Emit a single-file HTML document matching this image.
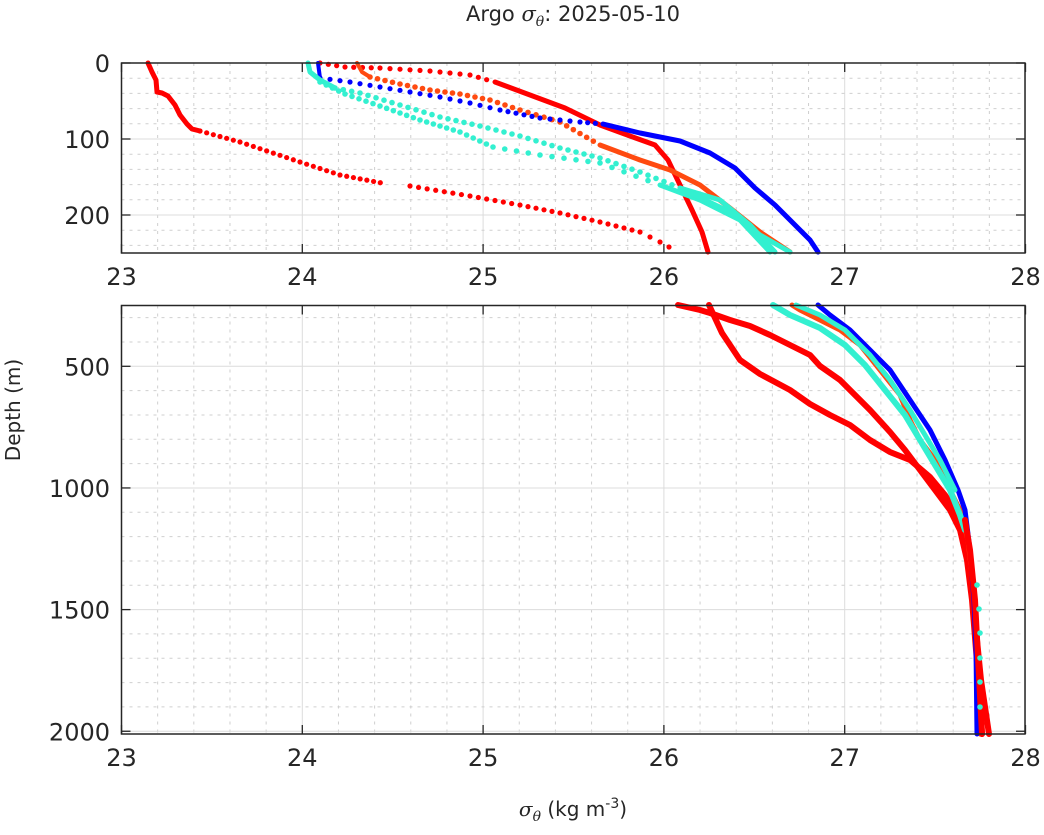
<!DOCTYPE html>
<html><head><meta charset="utf-8"><style>
html,body{margin:0;padding:0;background:#fff;}
svg{display:block;font-family:"DejaVu Sans","Liberation Sans",sans-serif;}
</style></head><body>
<svg id="s" width="1044" height="835" viewBox="0 0 1044 835" xmlns="http://www.w3.org/2000/svg">
<rect width="1044" height="835" fill="#fff"/>
<g id="grid"></g>
<g id="data" fill="none" stroke-linecap="round" stroke-linejoin="round"></g>
<g id="axes"></g>
<text x="573" y="21" font-size="21" text-anchor="middle" fill="#262626">Argo <tspan font-family="DejaVu Serif" font-style="italic">σ</tspan><tspan font-family="DejaVu Serif" font-style="italic" font-size="14" dy="5">θ</tspan><tspan dy="-5">: 2025-05-10</tspan></text>
<text transform="translate(20,410) rotate(-90)" font-size="20" text-anchor="middle" fill="#262626">Depth (m)</text>
<text x="573" y="816" font-size="20" text-anchor="middle" fill="#262626"><tspan font-family="DejaVu Serif" font-style="italic">σ</tspan><tspan font-family="DejaVu Serif" font-style="italic" font-size="14" dy="5">θ</tspan><tspan dy="-5"> (kg m</tspan><tspan font-size="14" dy="-8">-3</tspan><tspan dy="8">)</tspan></text>
</svg>
<script>
var NS="http://www.w3.org/2000/svg";
function el(p,t,a,txt){var e=document.createElementNS(NS,t);for(var k in a)e.setAttribute(k,a[k]);if(txt!==undefined)e.textContent=txt;p.appendChild(e);return e;}
var G=document.getElementById('grid'),D=document.getElementById('data'),A=document.getElementById('axes');
var X0=121.5,XS=180.8,XR=1025;
function px(s){return X0+(s-23)*XS;}
var panels=[{t:63,b:253,y:function(d){return 63+d*0.76;},maj:[0,100,200],min:[20,40,60,80,120,140,160,180,220,240],xl:285},
{t:305.5,b:734,y:function(d){return 366.3+(d-500)*0.2433;},maj:[500,1000,1500,2000],min:[],xl:766}];
for(var d=300;d<=2000;d+=100){if(d%500)panels[1].min.push(d);}
panels.forEach(function(p){
 for(var s=23;s<=28.001;s+=0.2){var x=px(s);var m=Math.abs(s-Math.round(s))<0.01;
  if(m){el(G,'line',{x1:x,x2:x,y1:p.t,y2:p.b,stroke:'#dcdcdc','stroke-width':1});}
  else el(G,'line',{x1:x,x2:x,y1:p.t,y2:p.b,stroke:'#cfcfcf','stroke-width':1,'stroke-dasharray':'3,5'});}
 p.min.forEach(function(d){var y=p.y(d);el(G,'line',{x1:X0,x2:XR,y1:y,y2:y,stroke:'#cfcfcf','stroke-width':1,'stroke-dasharray':'3,5'});});
 p.maj.forEach(function(d){var y=p.y(d);el(G,'line',{x1:X0,x2:XR,y1:y,y2:y,stroke:'#dcdcdc','stroke-width':1});
  el(A,'line',{x1:X0,x2:X0+9,y1:y,y2:y,stroke:'#262626','stroke-width':1.3});
  el(A,'line',{x1:XR,x2:XR-9,y1:y,y2:y,stroke:'#262626','stroke-width':1.3});
  el(A,'text',{x:110,y:y+9,'font-size':24,'text-anchor':'end',fill:'#262626'},String(d));});
 for(var s=23;s<=28;s++){var x=px(s);
  el(A,'line',{x1:x,x2:x,y1:p.b,y2:p.b-9,stroke:'#262626','stroke-width':1.3});
  el(A,'line',{x1:x,x2:x,y1:p.t,y2:p.t+9,stroke:'#262626','stroke-width':1.3});
  el(A,'text',{x:x,y:p.xl,'font-size':24,'text-anchor':'middle',fill:'#262626'},String(s));}
 el(A,'rect',{x:X0,y:p.t,width:XR-X0,height:p.b-p.t,fill:'none',stroke:'#262626','stroke-width':1.5});
});
function line(pts,c,w){el(D,'polyline',{points:pts.map(function(q){return q.join(',')}).join(' '),stroke:c,'stroke-width':w});}
function dots(pts,c,r,n){for(var i=0;i<pts.length-1;i++){var a=pts[i],b=pts[i+1];var L=Math.hypot(b[0]-a[0],b[1]-a[1]);var k=Math.max(1,Math.round(L/n));for(var j=0;j<k;j++){var t=j/k;el(D,'circle',{cx:a[0]+(b[0]-a[0])*t,cy:a[1]+(b[1]-a[1])*t,r:r,fill:c,stroke:'none'});}}}
var RED='#ff0000',OR='#ff4a10',BL='#0000ff',CY='#33f0d0';
// top panel
line([[148,63],[152,72],[156,80],[157,92],[162,93],[168,96],[175,105],[180,115],[187,124],[192,129],[200,131]],RED,5);
dots([[200,131],[240,142],[300,162],[340,175],[387,184]],RED,2.6,7);
dots([[410,186],[470,196],[520,205],[560,213],[600,222],[640,232],[660,242],[678,252]],RED,2.6,9);
dots([[320,63],[345,67],[380,68],[430,71],[470,75],[495,82]],RED,2.6,10);
line([[495,82],[530,95],[565,108],[600,125],[630,136],[655,145],[668,160],[680,185],[692,210],[702,232],[708,252]],RED,5);
line([[357,63],[362,72],[370,77]],OR,4);
dots([[370,77],[400,84],[430,90],[460,94],[490,100],[520,110],[560,122],[600,145]],OR,2.8,8);
line([[600,145],[640,160],[670,170],[700,185],[730,208],[760,232],[790,252]],OR,5);
line([[318,63],[320,78]],BL,4);
dots([[320,78],[350,82],[380,87],[410,92],[440,97],[470,103],[500,110],[540,118],[580,122],[603,124]],BL,2.6,9);
line([[603,124],[640,133],[680,141],[710,153],[735,168],[755,188],[775,205],[795,225],[810,240],[818,252]],BL,5);
line([[308,63],[310,72],[320,80],[335,88]],CY,5);
dots([[335,88],[360,93],[400,105],[440,117],[480,126],[520,136],[560,148],[600,158],[640,172],[680,188]],CY,2.8,8);
dots([[320,82],[345,94],[380,106],[420,120],[460,132],[493,147]],CY,2.8,7);
dots([[493,147],[540,155],[600,163],[660,185]],CY,2.8,12);
line([[680,188],[720,200],[750,225],[775,252]],CY,5);
line([[660,185],[700,200],[740,220],[770,252]],CY,5);
line([[680,188],[730,212],[760,235],[790,252]],CY,5);
// bottom panel
line([[678,305],[700,310],[710,313],[730,320],[750,326],[770,335],[790,345],[810,355],[820,366],[840,380],[855,395],[870,410],[890,432],[905,450],[920,470],[935,490],[950,510],[960,530],[967,560],[972,600],[976,650],[980,700],[982,734]],RED,6);
line([[709,305],[715,318],[722,333],[730,345],[740,360],[760,374],[790,390],[810,404],[830,415],[850,425],[870,440],[890,452],[910,460],[930,477],[945,495],[958,515],[966,550],[973,600],[981,680],[989,734]],RED,6);
line([[792,305],[800,310],[820,320],[840,330],[860,345],[880,370],[900,395],[910,420],[920,440],[935,460],[950,490],[960,510],[968,540],[975,600],[980,734]],OR,5);
line([[818,305],[830,315],[850,330],[870,350],[890,370],[910,400],[930,430],[945,460],[958,490],[965,510],[970,550],[974,600],[976,650],[977,734]],BL,5);
line([[773,305],[790,315],[820,328],[845,345],[865,365],[885,390],[905,415],[920,440],[935,465],[950,490],[960,515],[965,530]],CY,6);
line([[796,305],[820,315],[845,330],[870,355],[890,380],[910,410],[925,435],[940,460],[955,490]],CY,5);
line([[965,520],[970,550],[975,600],[982,734]],RED,6);
[[977,585],[979,609],[980,633],[980,658],[980,682],[980,707]].forEach(function(q){el(D,'circle',{cx:q[0],cy:q[1],r:2.8,fill:CY});});
</script>
</body></html>
